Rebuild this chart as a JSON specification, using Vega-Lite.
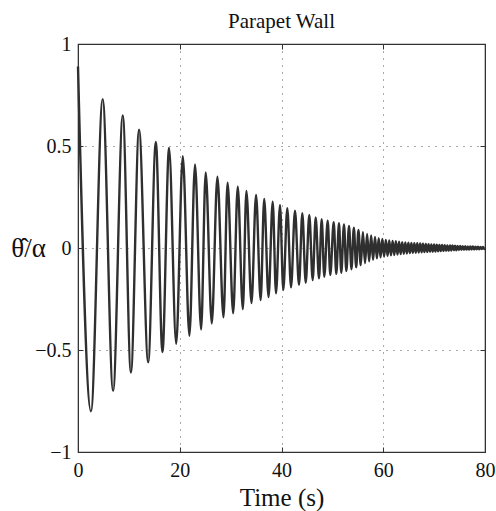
{
  "$schema": "https://vega.github.io/schema/vega-lite/v6.json",
  "width": 407,
  "height": 408,
  "autosize": {"type": "none"},
  "padding": {"left": 78, "top": 44, "right": 11, "bottom": 59},
  "background": "white",
  "title": {"text": "Parapet Wall", "font": "Liberation Serif", "fontSize": 21, "fontWeight": "normal", "color": "#111", "offset": 2, "anchor": "middle"},
  "config": {
    "view": {"stroke": "#333", "strokeWidth": 1.2},
    "axis": {
      "labelFont": "Liberation Serif",
      "titleFont": "Liberation Serif",
      "labelColor": "#111",
      "titleColor": "#111",
      "titleFontWeight": "normal",
      "domainColor": "#333",
      "tickColor": "#333",
      "gridColor": "#444",
      "gridDash": [1, 6],
      "gridOpacity": 0.9
    }
  },
  "data": {"values": [
    {"t": 0, "v": 0.89}, {"t": 2.55, "v": -0.80}, {"t": 4.85, "v": 0.73}, {"t": 6.9, "v": -0.70},
    {"t": 8.8, "v": 0.65}, {"t": 10.4, "v": -0.61}, {"t": 12.0, "v": 0.58}, {"t": 13.8, "v": -0.56},
    {"t": 15.3, "v": 0.52}, {"t": 16.6, "v": -0.51}, {"t": 17.9, "v": 0.49}, {"t": 19.3, "v": -0.47},
    {"t": 20.6, "v": 0.45}, {"t": 21.9, "v": -0.43}, {"t": 23.0, "v": 0.41}, {"t": 24.2, "v": -0.40},
    {"t": 25.1, "v": 0.37}, {"t": 26.3, "v": -0.37}, {"t": 27.4, "v": 0.35}, {"t": 28.6, "v": -0.34},
    {"t": 29.4, "v": 0.32}, {"t": 30.5, "v": -0.32}, {"t": 31.4, "v": 0.30}, {"t": 32.4, "v": -0.30},
    {"t": 33.1, "v": 0.28}, {"t": 34.1, "v": -0.27}, {"t": 35.0, "v": 0.26}, {"t": 35.9, "v": -0.255},
    {"t": 36.6, "v": 0.24}, {"t": 37.45, "v": -0.24}, {"t": 38.27, "v": 0.227}, {"t": 38.92, "v": -0.222},
    {"t": 39.71, "v": 0.211}, {"t": 40.35, "v": -0.206}, {"t": 41.14, "v": 0.195}, {"t": 41.87, "v": -0.193},
    {"t": 42.65, "v": 0.183}, {"t": 43.44, "v": -0.181}, {"t": 44.09, "v": 0.170}, {"t": 44.76, "v": -0.170},
    {"t": 45.46, "v": 0.162}, {"t": 46.13, "v": -0.157}, {"t": 46.72, "v": 0.150}, {"t": 47.37, "v": -0.149},
    {"t": 47.90, "v": 0.141}, {"t": 48.41, "v": -0.141}, {"t": 49.08, "v": 0.134}, {"t": 49.59, "v": -0.132},
    {"t": 50.26, "v": 0.126}, {"t": 50.77, "v": -0.127}, {"t": 51.30, "v": 0.121}, {"t": 51.75, "v": -0.121},
    {"t": 52.28, "v": 0.116}, {"t": 52.74, "v": -0.113}, {"t": 53.27, "v": 0.108}, {"t": 53.75, "v": -0.104},
    {"t": 54.22, "v": 0.099}, {"t": 54.68, "v": -0.095}, {"t": 55.13, "v": 0.088}, {"t": 55.57, "v": -0.084},
    {"t": 56.0, "v": 0.078}, {"t": 56.42, "v": -0.074}, {"t": 56.83, "v": 0.069}, {"t": 57.23, "v": -0.065},
    {"t": 57.62, "v": 0.061}, {"t": 58.0, "v": -0.058}, {"t": 58.38, "v": 0.054}, {"t": 58.75, "v": -0.051},
    {"t": 59.11, "v": 0.048}, {"t": 59.47, "v": -0.046}, {"t": 59.82, "v": 0.044}, {"t": 60.17, "v": -0.042},
    {"t": 60.51, "v": 0.040}, {"t": 60.85, "v": -0.038}, {"t": 61.18, "v": 0.037}, {"t": 61.51, "v": -0.036},
    {"t": 61.84, "v": 0.035}, {"t": 62.16, "v": -0.034}, {"t": 62.48, "v": 0.033}, {"t": 62.8, "v": -0.032},
    {"t": 63.11, "v": 0.031}, {"t": 63.42, "v": -0.030}, {"t": 63.73, "v": 0.029}, {"t": 64.04, "v": -0.028},
    {"t": 64.34, "v": 0.027}, {"t": 64.64, "v": -0.027}, {"t": 64.94, "v": 0.026}, {"t": 65.24, "v": -0.025},
    {"t": 65.53, "v": 0.025}, {"t": 65.82, "v": -0.024}, {"t": 66.11, "v": 0.024}, {"t": 66.4, "v": -0.023},
    {"t": 66.69, "v": 0.023}, {"t": 66.97, "v": -0.022}, {"t": 67.25, "v": 0.022}, {"t": 67.53, "v": -0.021},
    {"t": 67.81, "v": 0.021}, {"t": 68.09, "v": -0.020}, {"t": 68.37, "v": 0.020}, {"t": 68.64, "v": -0.019},
    {"t": 68.91, "v": 0.019}, {"t": 69.18, "v": -0.018}, {"t": 69.45, "v": 0.018}, {"t": 69.72, "v": -0.018},
    {"t": 69.99, "v": 0.017}, {"t": 70.26, "v": -0.017}, {"t": 70.52, "v": 0.016}, {"t": 70.78, "v": -0.016},
    {"t": 71.04, "v": 0.015}, {"t": 71.3, "v": -0.015}, {"t": 71.56, "v": 0.015}, {"t": 71.82, "v": -0.014},
    {"t": 72.08, "v": 0.014}, {"t": 72.34, "v": -0.013}, {"t": 72.6, "v": 0.013}, {"t": 72.86, "v": -0.013},
    {"t": 73.12, "v": 0.012}, {"t": 73.37, "v": -0.012}, {"t": 73.62, "v": 0.012}, {"t": 73.87, "v": -0.011},
    {"t": 74.12, "v": 0.011}, {"t": 74.37, "v": -0.011}, {"t": 74.62, "v": 0.010}, {"t": 74.87, "v": -0.010},
    {"t": 75.12, "v": 0.010}, {"t": 75.37, "v": -0.009}, {"t": 75.62, "v": 0.009}, {"t": 75.87, "v": -0.009},
    {"t": 76.12, "v": 0.009}, {"t": 76.37, "v": -0.008}, {"t": 76.62, "v": 0.008}, {"t": 76.87, "v": -0.008},
    {"t": 77.12, "v": 0.007}, {"t": 77.37, "v": -0.007}, {"t": 77.62, "v": 0.007}, {"t": 77.87, "v": -0.007},
    {"t": 78.12, "v": 0.006}, {"t": 78.37, "v": -0.006}, {"t": 78.62, "v": 0.006}, {"t": 78.87, "v": -0.006},
    {"t": 79.12, "v": 0.005}, {"t": 79.37, "v": -0.005}, {"t": 79.62, "v": 0.005}, {"t": 79.87, "v": -0.005},
    {"t": 80, "v": 0}
  ]},
  "layer": [
    {
      "mark": {"type": "line", "interpolate": "monotone", "color": "#2f2f2f", "strokeWidth": 2.4},
      "encoding": {
        "x": {"field": "t", "type": "quantitative", "scale": {"domain": [0, 80], "nice": false, "zero": false},
          "axis": {"orient": "bottom", "values": [0, 20, 40, 60, 80], "title": "Time (s)", "titleFontSize": 25,
            "titleY": 53, "titleBaseline": "alphabetic", "labelFontSize": 20, "labelPadding": 13,
            "tickSize": -5, "grid": true, "labelFlush": false, "labelOverlap": false}},
        "y": {"field": "v", "type": "quantitative", "scale": {"domain": [-1, 1], "nice": false, "zero": false},
          "axis": {"orient": "left", "values": [-1, -0.5, 0, 0.5, 1], "format": "~g", "title": "θ̂/α", "titleFontSize": 27,
            "titleAngle": 0, "titleX": -50, "titleY": 204, "titleAlign": "center", "titleBaseline": "middle",
            "labelFontSize": 20, "labelPadding": 12, "tickSize": -5, "grid": true, "labelFlush": false, "labelOverlap": false}}
      }
    },
    {
      "mark": {"type": "line", "opacity": 0},
      "encoding": {
        "x": {"field": "t", "type": "quantitative", "scale": {"domain": [0, 80], "nice": false, "zero": false},
          "axis": {"orient": "top", "values": [0, 20, 40, 60, 80], "title": null, "labels": false, "tickSize": -5, "grid": false, "domain": true}},
        "y": {"field": "v", "type": "quantitative", "scale": {"domain": [-1, 1], "nice": false, "zero": false},
          "axis": {"orient": "right", "values": [-1, -0.5, 0, 0.5, 1], "title": null, "labels": false, "tickSize": -5, "grid": false, "domain": true}}
      }
    }
  ],
  "resolve": {"axis": {"x": "independent", "y": "independent"}}
}
